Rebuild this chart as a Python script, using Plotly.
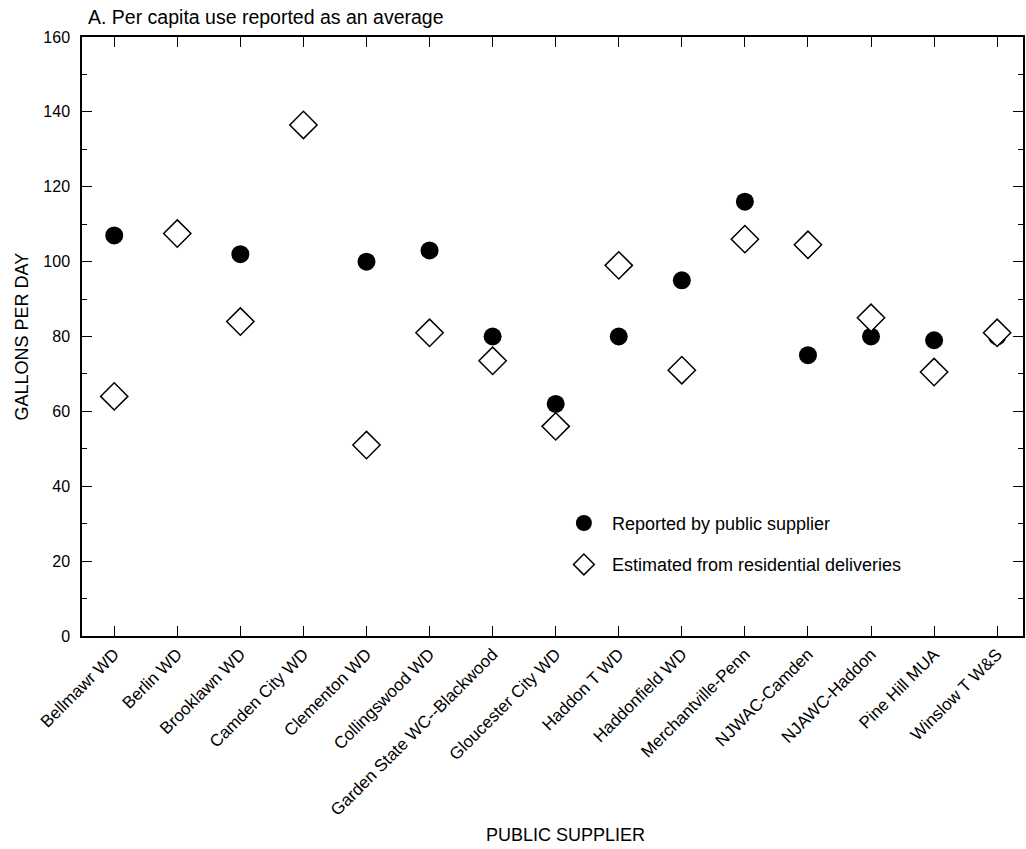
import plotly.graph_objects as go

suppliers = ["Bellmawr WD", "Berlin WD", "Brooklawn WD", "Camden City WD", "Clementon WD",
             "Collingswood WD", "Garden State WC--Blackwood", "Gloucester City WD", "Haddon T WD",
             "Haddonfield WD", "Merchantville-Penn", "NJWAC-Camden", "NJAWC-Haddon",
             "Pine Hill MUA", "Winslow T W&S"]
reported = [107, None, 102, None, 100, 103, 80, 62, 80, 95, 116, 75, 80, 79, 80]
estimated = [64, 107.5, 84, 136.5, 51, 81, 73.5, 56, 99, 71, 106, 104.5, 85, 70.5, 81]

xs = list(range(len(suppliers)))
FONT = "Liberation Sans, Arial, Helvetica, sans-serif"

fig = go.Figure()
fig.add_trace(go.Scatter(
    x=xs, y=reported, mode="markers", name="Reported by public supplier",
    marker=dict(symbol="circle", size=18, color="black", line=dict(width=0)),
    legendgroup="a"))
fig.add_trace(go.Scatter(
    x=xs, y=estimated, mode="markers", name="Estimated from residential deliveries",
    marker=dict(symbol="diamond", size=21, color="white", line=dict(width=1.5, color="black")),
    legendgroup="b"))

fig.update_layout(
    width=1026, height=849,
    margin=dict(l=82, r=1, t=37, b=213),
    paper_bgcolor="white", plot_bgcolor="white",
    font=dict(family=FONT, size=16, color="black"),
    showlegend=True,
    legend=dict(x=0.5036, y=0.219, xanchor="left", yanchor="top",
                bgcolor="rgba(0,0,0,0)", font=dict(size=18, family=FONT),
                traceorder="grouped", tracegroupgap=15, itemwidth=46),
    annotations=[
        dict(text="A. Per capita use reported as an average", xref="paper", yref="paper",
             x=0, y=1, xanchor="left", yanchor="middle", xshift=4, yshift=20, showarrow=False,
             font=dict(size=19.5, family=FONT)),
        dict(text="PUBLIC SUPPLIER", xref="paper", yref="paper",
             x=0.514, y=0, xanchor="center", yanchor="middle", yshift=-199, showarrow=False,
             font=dict(size=18, family=FONT)),
        dict(text="GALLONS PER DAY", xref="paper", yref="paper", textangle=-90,
             x=0, y=0.5, xanchor="center", yanchor="middle", xshift=-61, showarrow=False,
             font=dict(size=18, family=FONT)),
    ],
)

fig.update_xaxes(
    range=[-0.511, 14.41], tickmode="array", tickvals=xs, ticktext=suppliers,
    tickangle=-45, ticks="inside", ticklen=10, tickwidth=1.3, tickcolor="black",
    showline=True, linecolor="black", linewidth=1.5, mirror="ticks",
    showgrid=False, zeroline=False,
    tickfont=dict(size=17),
)
fig.update_yaxes(
    range=[0, 160], tickmode="linear", tick0=0, dtick=20,
    ticks="inside", ticklen=10, tickwidth=1.3, tickcolor="black",
    minor=dict(ticks="inside", dtick=10, ticklen=5, tickwidth=1.3, tickcolor="black"),
    showline=True, linecolor="black", linewidth=1.5, mirror="ticks",
    showgrid=False, zeroline=False, ticklabelstandoff=7,
    tickfont=dict(size=16),
)

fig.write_html("out.html")
